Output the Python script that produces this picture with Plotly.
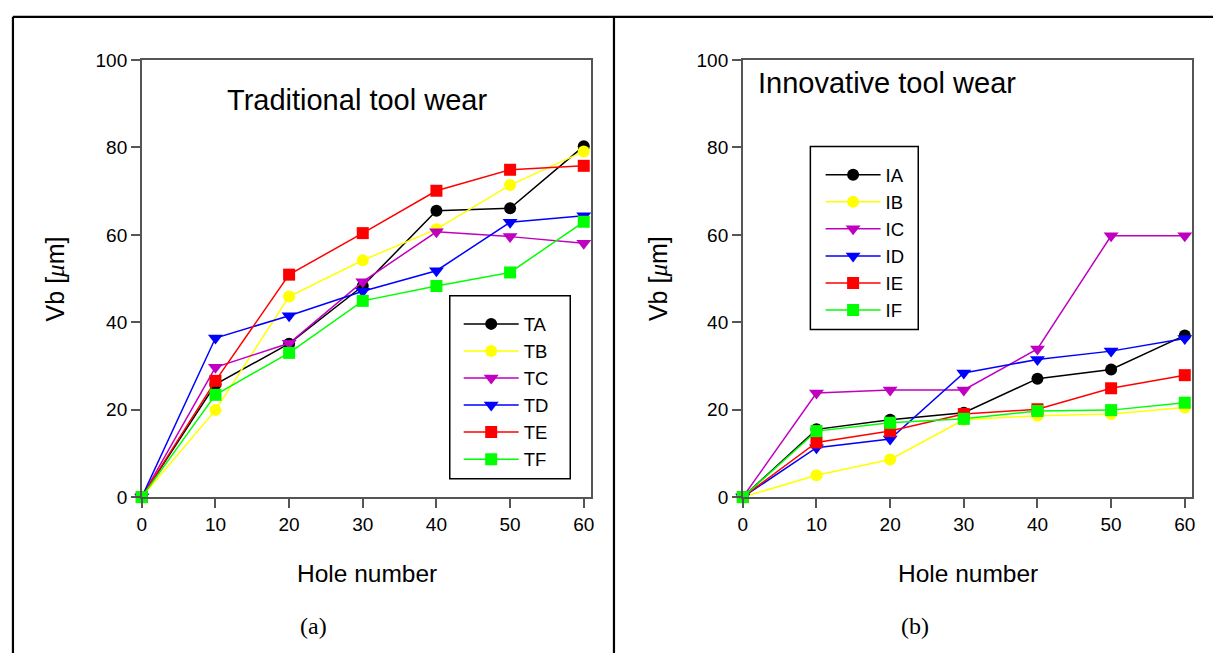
import plotly.graph_objects as go

W, H = 1216, 664

holes = [0, 10, 20, 30, 40, 50, 60]

# Traditional tool wear (panel a)
TA = [0, 25.8, 35.1, 48.3, 65.5, 66.1, 80.3]
TB = [0, 19.9, 45.9, 54.2, 61.3, 71.4, 79.1]
TC = [0, 29.7, 35.2, 49.3, 60.7, 59.6, 58.1]
TD = [0, 36.4, 41.5, 47.1, 51.8, 62.9, 64.4]
TE = [0, 26.6, 50.9, 60.4, 70.1, 74.9, 75.8]
TF = [0, 23.4, 33.0, 44.9, 48.3, 51.4, 63.0]

# Innovative tool wear (panel b)
IA = [0, 15.5, 17.7, 19.3, 27.1, 29.2, 37.0]
IB = [0, 5.0, 8.6, 17.7, 18.6, 19.0, 20.5]
IC = [0, 23.8, 24.5, 24.5, 33.9, 59.8, 59.8]
ID = [0, 11.3, 13.3, 28.4, 31.5, 33.4, 36.3]
IE = [0, 12.5, 15.1, 19.0, 20.1, 24.9, 27.9]
IF = [0, 15.1, 17.0, 17.9, 19.7, 19.9, 21.6]

left_names = ["TA", "TB", "TC", "TD", "TE", "TF"]
right_names = ["IA", "IB", "IC", "ID", "IE", "IF"]
left_series = [TA, TB, TC, TD, TE, TF]
right_series = [IA, IB, IC, ID, IE, IF]

colors = ["#000000", "#FFFF00", "#C000C0", "#0000FF", "#FF0000", "#00FF00"]
symbols = ["circle", "circle", "triangle-down", "triangle-down", "square", "square"]
sizes = [12, 12, 13, 13, 12, 12]

x_ticks = [0, 10, 20, 30, 40, 50, 60]
y_ticks = [0, 20, 40, 60, 80, 100]

SANS = "Liberation Sans, Arial, sans-serif"
SERIF = "Liberation Serif, Times New Roman, serif"


def px(x):
    return x / W


def py(y):
    return 1 - y / H


fig = go.Figure()
for name, ys, c, s, sz in zip(left_names, left_series, colors, symbols, sizes):
    fig.add_trace(go.Scatter(x=holes, y=ys, name=name, mode="lines+markers",
                             line=dict(color=c, width=1.5),
                             marker=dict(color=c, symbol=s, size=sz, line=dict(width=0)),
                             xaxis="x", yaxis="y", legend="legend", cliponaxis=False))
for name, ys, c, s, sz in zip(right_names, right_series, colors, symbols, sizes):
    fig.add_trace(go.Scatter(x=holes, y=ys, name=name, mode="lines+markers",
                             line=dict(color=c, width=1.5),
                             marker=dict(color=c, symbol=s, size=sz, line=dict(width=0)),
                             xaxis="x2", yaxis="y2", legend="legend2", cliponaxis=False))

ydom = [py(503), py(51.7)]
axis_common = dict(showgrid=False, zeroline=False, showline=True, mirror=True,
                   linecolor="#555555", linewidth=1.5, ticks="outside", ticklen=9,
                   tickwidth=1.5, tickcolor="#555555",
                   tickfont=dict(family=SANS, size=19, color="#000000"))

leg_font = dict(family=SANS, size=18.5, color="#000000")
fig.update_layout(
    width=W, height=H, autosize=False,
    margin=dict(l=0, r=0, t=0, b=0),
    paper_bgcolor="white", plot_bgcolor="white",
    xaxis=dict(domain=[px(137.7), px(590)], range=[0, 61], tickvals=x_ticks,
               anchor="y", **axis_common),
    yaxis=dict(domain=ydom, range=[0, 100], tickvals=y_ticks, anchor="x", **axis_common),
    xaxis2=dict(domain=[px(742.7), px(1195)], range=[0, 61], tickvals=x_ticks,
                anchor="y2", **axis_common),
    yaxis2=dict(domain=ydom, range=[0, 100], tickvals=y_ticks, anchor="x2", **axis_common),
    legend=dict(x=px(456.7), y=py(305), xanchor="left", yanchor="top",
                bgcolor="rgba(0,0,0,0)", borderwidth=0, itemwidth=55,
                font=leg_font, tracegroupgap=0),
    legend2=dict(x=px(821), y=py(151), xanchor="left", yanchor="top",
                 bgcolor="rgba(0,0,0,0)", borderwidth=0, itemwidth=55,
                 font=leg_font, tracegroupgap=0),
    showlegend=True,
)

shapes = [
    # legend boxes
    dict(type="rect", xref="paper", yref="paper", x0=px(447.7), x1=px(569), y0=py(484), y1=py(295),
         line=dict(color="#000000", width=1.5)),
    dict(type="rect", xref="paper", yref="paper", x0=px(810.7), x1=px(919.3), y0=py(330), y1=py(141),
         line=dict(color="#000000", width=1.5)),
    # table frame
    dict(type="line", xref="paper", yref="paper", x0=px(8), x1=px(8), y0=0, y1=py(7),
         line=dict(color="#000000", width=2.2)),
    dict(type="line", xref="paper", yref="paper", x0=px(8), x1=1, y0=py(7), y1=py(7),
         line=dict(color="#000000", width=2.2)),
    dict(type="line", xref="paper", yref="paper", x0=px(613), x1=px(613), y0=0, y1=py(7),
         line=dict(color="#000000", width=2.2)),
]
fig.update_layout(shapes=shapes)

vb = "Vb [<span style='font-family:Liberation Serif'><i>μ</i></span>m]"
ann = [
    dict(text="Traditional tool wear", x=px(221.7), y=py(93), xanchor="left", yanchor="middle",
         font=dict(family=SANS, size=29, color="#000000")),
    dict(text="Innovative tool wear", x=px(756), y=py(75), xanchor="left", yanchor="middle",
         font=dict(family=SANS, size=29, color="#000000")),
    dict(text="Hole number", x=px(364), y=py(582), xanchor="center", yanchor="middle",
         font=dict(family=SANS, size=24.5, color="#000000")),
    dict(text="Hole number", x=px(969), y=py(582), xanchor="center", yanchor="middle",
         font=dict(family=SANS, size=24.5, color="#000000")),
    dict(text=vb, x=px(50), y=py(277.5), xanchor="center", yanchor="middle", textangle=-90,
         font=dict(family=SANS, size=25, color="#000000")),
    dict(text=vb, x=px(656.7), y=py(277.5), xanchor="center", yanchor="middle", textangle=-90,
         font=dict(family=SANS, size=25, color="#000000")),
    dict(text="(a)", x=px(310.5), y=py(635.7), xanchor="center", yanchor="middle",
         font=dict(family=SERIF, size=24, color="#000000")),
    dict(text="(b)", x=px(916), y=py(635.7), xanchor="center", yanchor="middle",
         font=dict(family=SERIF, size=24, color="#000000")),
]
for a in ann:
    a.update(xref="paper", yref="paper", showarrow=False)
fig.update_layout(annotations=ann)

fig.write_html("out.html", config={"displayModeBar": False},
               post_script="document.body.style.margin='0px';")
